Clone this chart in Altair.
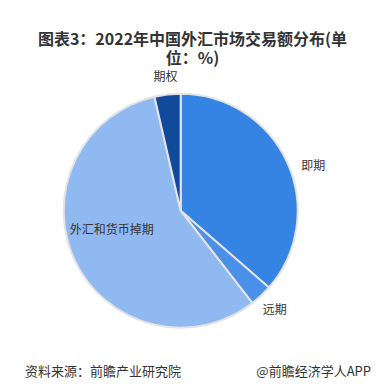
import altair as alt
import pandas as pd

categories = ["即期", "远期", "外汇和货币掉期", "期权"]
values = [36.4, 3.1, 56.9, 3.6]
colors = ["#3584e4", "#4b90e8", "#90b9f2", "#124a9b"]

df = pd.DataFrame({"cat": categories, "value": values, "idx": list(range(len(categories)))})

FONT = "Noto Sans CJK SC"
CX, CY = 172.7, 202.7

base = alt.Chart(df).encode(
    theta=alt.Theta("value:Q", stack=True),
    order=alt.Order("idx:Q"),
)

pie = base.mark_arc(radius=117, stroke="#e3e3e3", strokeWidth=2).encode(
    x=alt.value(CX), y=alt.value(CY),
    color=alt.Color("cat:N", scale=alt.Scale(domain=categories, range=colors), legend=None),
)

label_specs = {
    "即期": dict(radius=139, dx=6, dy=13),
    "远期": dict(radius=137, dx=0, dy=0),
    "外汇和货币掉期": dict(radius=72, dx=-4, dy=-12),
    "期权": dict(radius=135, dx=0, dy=0),
}

label_layers = []
for c, spec in label_specs.items():
    label_layers.append(
        base.mark_text(font=FONT, fontSize=12, color="#333333", align="center",
                       baseline="middle", **spec).encode(
            x=alt.value(CX), y=alt.value(CY),
            text=alt.condition(f"datum.cat == '{c}'", "cat:N", alt.value("")),
        )
    )

def note(txt, x, y, size, weight="normal", align="center", **kw):
    return alt.Chart(pd.DataFrame({"t": [0]})).mark_text(
        font=FONT, fontSize=size, fontWeight=weight, color="#333333",
        align=align, baseline="middle", text=txt, **kw).encode(
        x=alt.value(x), y=alt.value(y))

title = note(["图表3：2022年中国外汇市场交易额分布(单", "位：%)"], 184.5, 31.8, 16, "bold",
             lineHeight=19.5)
foot1 = note("资料来源：前瞻产业研究院", 17, 364, 13, align="left")
foot2 = note("@前瞻经济学人APP", 363, 364, 13, align="right")

chart = alt.layer(pie, *label_layers, title, foot1, foot2).properties(
    width=368, height=376, autosize=alt.AutoSizeParams(type="none"), padding=0,
    background="white",
).configure_view(stroke=None)

chart.save("out.html", embed_options={"renderer": "svg", "actions": False})
